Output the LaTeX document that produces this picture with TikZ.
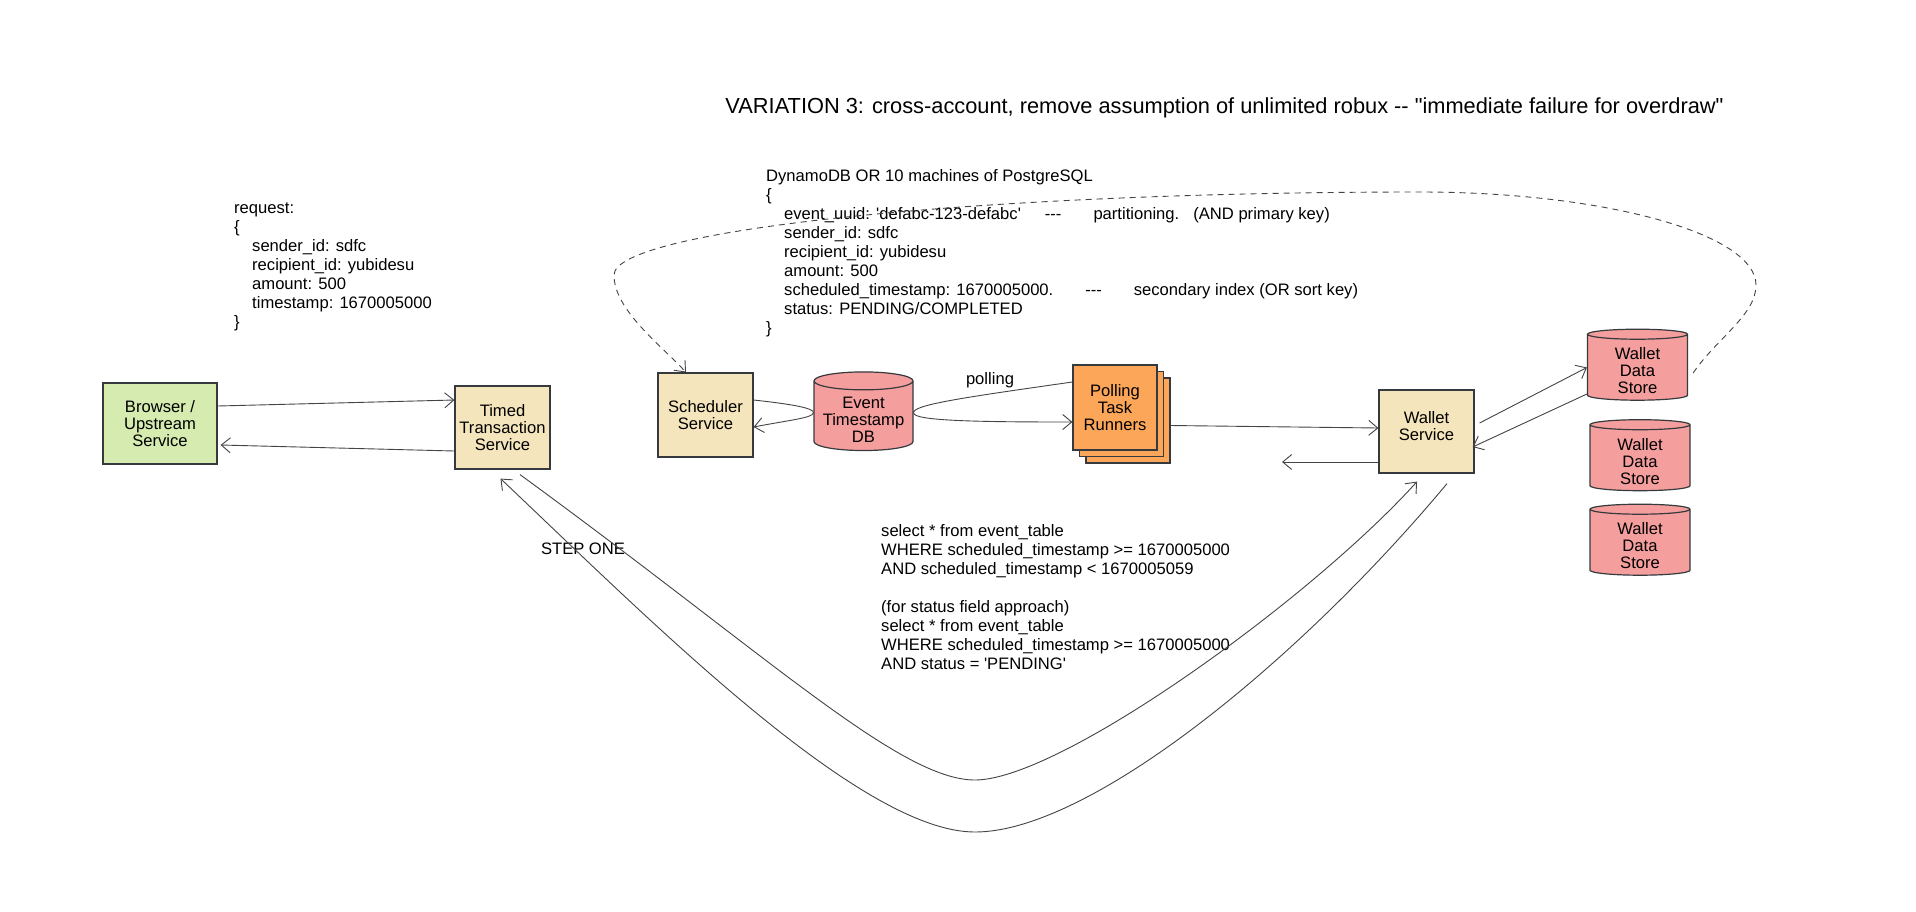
\documentclass[tikz,border=0pt]{standalone}
\usepackage{fontspec}
\setmainfont{Liberation Sans}[Ligatures=TeXOff]
\usetikzlibrary{arrows.meta,shapes.geometric,positioning}
\definecolor{svcfill}{HTML}{F5E5BC}
\definecolor{greenfill}{HTML}{D5EBB0}
\definecolor{orangefill}{HTML}{FCA65A}
\definecolor{dbfill}{HTML}{F59E9E}
\definecolor{edgecol}{HTML}{36393D}
\definecolor{linecol}{HTML}{444444}
\newcommand{\txtsize}{\fontsize{16.6}{19}\selectfont}
\newcommand{\boxsize}{\fontsize{16.6}{17}\selectfont}
\newcommand{\ind}{\hspace*{18pt}}
\newcommand{\dblabel}[1]{\raisebox{-6pt}[\height][\depth]{\begin{tabular}{@{}c@{}}#1\end{tabular}}}

\begin{document}
\begin{tikzpicture}[x=1pt,y=1pt,
            svc/.style={draw=edgecol, line width=1.2pt, fill=svcfill, align=center, font=\boxsize, inner sep=0pt},
            runner/.style={svc, fill=orangefill, minimum width=84pt, minimum height=85pt},
            dbs/.style={cylinder, shape border rotate=90, aspect=0.22, draw=edgecol, line width=1.2pt, fill=dbfill, font=\boxsize, inner sep=0pt, minimum width=100pt, minimum height=71pt},
            conn/.style={draw=linecol, line width=0.9pt, -{Straight Barb[length=9pt,width=15pt]}},
            note/.style={align=left, anchor=north west, inner sep=0pt, font=\txtsize}]
            \fill[white] (0,0) rectangle (1916,-911);
            \useasboundingbox (0,0) rectangle (1916,-911);

            \node[font=\fontsize{21.8}{25}\selectfont, inner sep=0pt] (title) at (1224.5,-107.5) {VARIATION 3: cross-account, remove assumption of unlimited robux -- "immediate failure for overdraw"};

            \node[svc, fill=greenfill, minimum width=114pt, minimum height=81pt] (browser) at (160,-423.5) {Browser /\\Upstream\\Service};
            \node[svc, minimum width=95pt, minimum height=83pt] (timed) at (502.5,-427.5) {Timed\\Transaction\\Service};
            \node[svc, minimum width=95pt, minimum height=84pt] (sched) at (705.5,-415) {Scheduler\\Service};
            \node[dbs, minimum width=99pt, minimum height=74pt] (evdb) at (863.5,-416) {\dblabel{Event\\Timestamp\\DB}};
            \node[runner] (poll3) at (1128,-420.5) {};
            \node[runner] (poll2) at ([shift={(-6.5,6.5)}]poll3.center) {};
            \node[runner] (poll) at ([shift={(-6.5,6.5)}]poll2.center) {Polling\\Task\\Runners};
            \node[svc, minimum width=95pt, minimum height=83pt, text depth=12pt] (wallet) at (1426.5,-431.5) {Wallet\\Service};
            \node[dbs] (store1) at (1637.5,-367.5) {\dblabel{Wallet\\Data\\Store}};
            \node[dbs] (store2) at (1640,-458) {\dblabel{Wallet\\Data\\Store}};
            \node[dbs] (store3) at (1640,-542.5) {\dblabel{Wallet\\Data\\Store}};

            \node[note] (req) at (234,-203) {request:\\\{\\\ind sender\_id: sdfc\\\ind recipient\_id: yubidesu\\\ind amount: 500\\\ind timestamp: 1670005000\\\}};
            \node[note] (schema) at (766,-169) {DynamoDB OR 10 machines of PostgreSQL\\\{\\\ind event\_uuid: 'defabc-123-defabc'\hspace{24pt}---\hspace{32pt}partitioning.\hspace{14pt}(AND primary key)\\\ind sender\_id: sdfc\\\ind recipient\_id: yubidesu\\\ind amount: 500\\\ind scheduled\_timestamp: 1670005000.\hspace{32pt}---\hspace{32pt}secondary index (OR sort key)\\\ind status: PENDING/COMPLETED\\\}};
            \node[note] (query) at (881,-524) {select * from event\_table\\WHERE scheduled\_timestamp >= 1670005000\\AND scheduled\_timestamp < 1670005059\\[19pt](for status field approach)\\select * from event\_table\\WHERE scheduled\_timestamp >= 1670005000\\AND status = 'PENDING'};
            \node[font=\txtsize, inner sep=0pt] (stepone) at (583,-549) {STEP ONE};
            \node[font=\txtsize, inner sep=0pt] (pollinglbl) at (990,-380) {polling};

            \coordinate (walletout) at (1282,-462);
            \coordinate (inbot) at (975,-780);
            \coordinate (outbot) at (975,-832);
            \coordinate (dashR) at (1756,-285);
            \coordinate (dashT) at (1420,-192);
            \coordinate (dashL) at (614,-275);

            \draw[conn] ([yshift=17.5pt]browser.east) -- ([yshift=27.5pt]timed.west);
            \draw[conn] ([yshift=-23.5pt]timed.west) -- ([xshift=3pt,yshift=-21.5pt]browser.east);
            \draw[conn] ([yshift=15pt]sched.east) .. controls (790,-404) and (815,-408) .. ([yshift=3pt]evdb.west) .. controls (812,-418) and (790,-420) .. ([yshift=-12pt]sched.east);
            \draw[conn] ([yshift=25.5pt]poll.west) .. controls (960,-398) and (912,-405) .. ([yshift=3pt]evdb.east) .. controls (914,-421) and (980,-422) .. ([yshift=-14.5pt]poll.west);
            \draw[conn] ([yshift=-5pt]poll3.east) -- ([yshift=3.5pt]wallet.west);
            \draw[conn] ([yshift=-30.5pt]wallet.west) -- (walletout);
            \draw[conn] ([xshift=5pt,yshift=8.5pt]wallet.east) -- (store1.west);
            \draw[conn] ([yshift=-26.5pt]store1.west) -- ([xshift=-2pt,yshift=-15.5pt]wallet.east);
            \draw[conn] ([xshift=17.5pt,yshift=-5pt]timed.south) .. controls (770,-657) and (900,-780) .. (inbot) .. controls (1060,-780) and (1310,-600) .. ([xshift=-9.5pt,yshift=-8pt]wallet.south);
            \draw[conn] ([xshift=20.5pt,yshift=-10pt]wallet.south) .. controls (1300,-660) and (1090,-832) .. (outbot) .. controls (860,-832) and (650,-620) .. ([xshift=-2pt,yshift=-9pt]timed.south);
            \draw[conn, dash pattern=on 6pt off 5pt] ([xshift=5pt,yshift=-5.5pt]store1.east) .. controls (1717,-338) and (1756,-315) .. (dashR) .. controls (1756,-234) and (1605,-192) .. (dashT) .. controls (975,-192) and (614,-230) .. (dashL) .. controls (614,-310) and (661,-345) .. ([xshift=-19.5pt]sched.north);
        \end{tikzpicture}
\end{document}
